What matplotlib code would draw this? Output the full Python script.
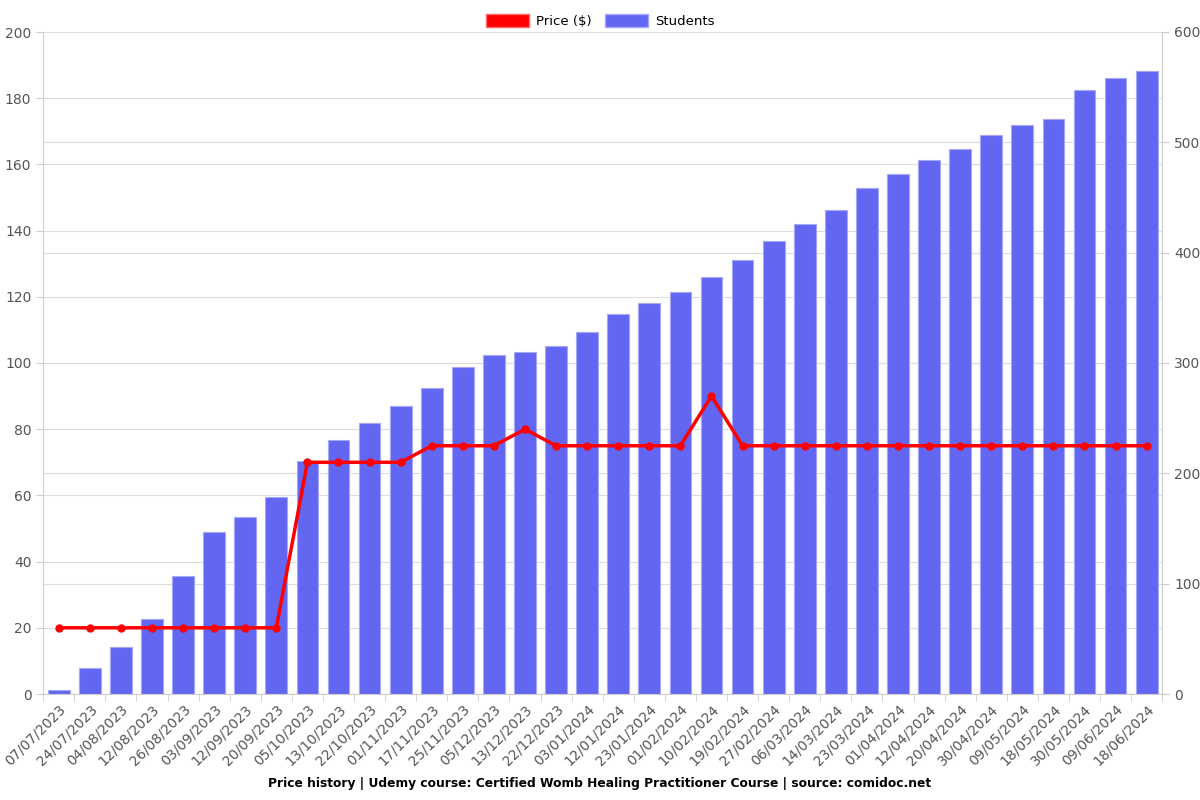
import numpy as np
import matplotlib.pyplot as plt
from matplotlib.patches import Patch

dates = ['07/07/2023', '24/07/2023', '04/08/2023', '12/08/2023', '26/08/2023', '03/09/2023',
         '12/09/2023', '20/09/2023', '05/10/2023', '13/10/2023', '22/10/2023', '01/11/2023',
         '17/11/2023', '25/11/2023', '05/12/2023', '13/12/2023', '22/12/2023', '03/01/2024',
         '12/01/2024', '23/01/2024', '01/02/2024', '10/02/2024', '19/02/2024', '27/02/2024',
         '06/03/2024', '14/03/2024', '23/03/2024', '01/04/2024', '12/04/2024', '20/04/2024',
         '30/04/2024', '09/05/2024', '18/05/2024', '30/05/2024', '09/06/2024', '18/06/2024']
students = [4, 24, 43, 68, 107, 147, 160, 179, 211, 230, 246, 261,
            277, 296, 307, 310, 315, 328, 344, 354, 364, 378, 393, 411,
            426, 439, 459, 471, 484, 494, 507, 516, 521, 547, 558, 565]
price = [20, 20, 20, 20, 20, 20, 20, 20, 70, 70, 70, 70,
         75, 75, 75, 80, 75, 75, 75, 75, 75, 90, 75, 75,
         75, 75, 75, 75, 75, 75, 75, 75, 75, 75, 75, 75]

x = np.arange(len(dates))

fig = plt.figure(figsize=(12, 8), dpi=100)
ax = fig.add_axes([0.036, 0.1325, 0.9325, 0.8275])
ax2 = ax.twinx()

# bars on right axis, behind the price line
ax2.bar(x, students, width=0.7, color='#6366f1', edgecolor='#a5a7f7', linewidth=0.8, zorder=2)
ax.plot(x, price, color='#ff0000', linewidth=2.5, marker='o', markersize=5, zorder=5)

ax.set_zorder(ax2.get_zorder() + 1)
ax.patch.set_visible(False)

ax.set_xlim(-0.5, len(dates) - 0.5)
ax.set_ylim(0, 200)
ax2.set_ylim(0, 600)
ax.set_yticks(range(0, 201, 20))
ax2.set_yticks(range(0, 601, 100))

ax.set_xticks(x)
ax.set_xticklabels(dates, rotation=45, ha='right', rotation_mode='anchor')
ax.set_xticks(np.arange(-0.5, len(dates), 1), minor=True)
ax.tick_params(axis='x', which='major', length=0, pad=6)

grey = '#555555'
for a in (ax, ax2):
    a.tick_params(colors=grey, labelsize=10)
    a.tick_params(axis='y', length=5, color='#cccccc')
    for s in a.spines.values():
        s.set_visible(False)
ax.tick_params(axis='x', which='minor', length=5, color='#cccccc')
ax.spines['bottom'].set_visible(True)
ax.spines['bottom'].set_color('#cccccc')
ax.spines['left'].set_visible(True)
ax.spines['left'].set_color('#cccccc')
ax2.spines['right'].set_visible(True)
ax2.spines['right'].set_color('#cccccc')

ax2.grid(axis='y', color='#dddddd', linewidth=0.8, zorder=0)
ax2.set_axisbelow(True)
ax2.set_xticks(np.arange(-0.5, len(dates), 1), minor=True)
ax2.grid(axis='x', which='minor', color='#dddddd', linewidth=0.8)
# left grid drawn on the back axes too
for v in range(20, 201, 20):
    ax2.axhline(v * 3, color='#dddddd', linewidth=0.8, zorder=0)

handles = [Patch(facecolor='#ff0000', edgecolor='#ff6666'),
           Patch(facecolor='#6366f1', edgecolor='#a5a7f7')]
fig.legend(handles, ['Price ($)', 'Students'], loc='upper center', bbox_to_anchor=(0.5, 0.997),
           ncol=2, frameon=False, fontsize=9.5, handlelength=3.3, handleheight=1.1,
           columnspacing=1.0, handletextpad=0.5)

fig.text(0.5, 0.021, 'Price history | Udemy course: Certified Womb Healing Practitioner Course | source: comidoc.net',
         ha='center', va='center', fontsize=8.8, fontweight='bold')

fig.savefig('out.png')
